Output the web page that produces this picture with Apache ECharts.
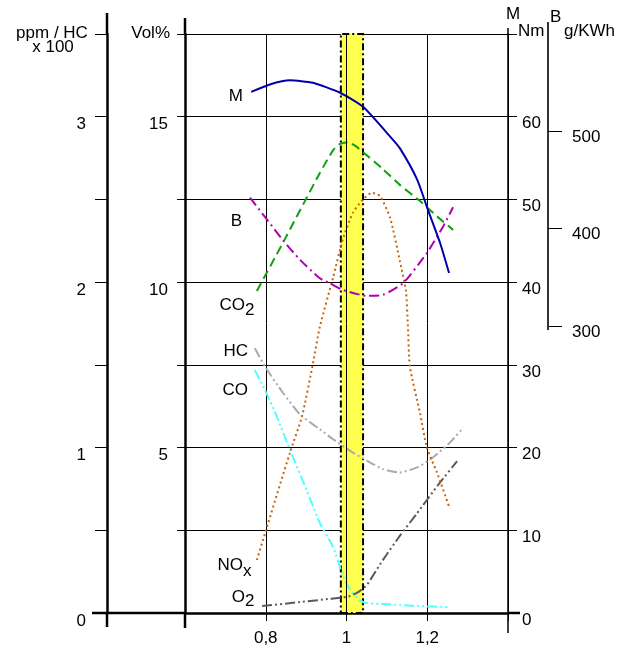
<!DOCTYPE html>
<html>
<head>
<meta charset="utf-8">
<script src="https://cdn.jsdelivr.net/npm/echarts@6/dist/echarts.min.js"></script>
<style>
  html, body { margin: 0; padding: 0; background: #fff; }
  #chart { width: 628px; height: 650px; }
</style>
</head>
<body>
<div id="chart"></div>
<script>
// lambda (Luftzahl) auf der x-Achse
var lambdaLabels = [0.8, 1, 1.2];
var bandFrom = 0.986, bandTo = 1.041;

// M  [lambda, Nm]
var torqueM = [[0.764, 63.0], [0.81, 63.9], [0.86, 64.4], [0.917, 64.1], [0.984, 62.9], [1.041, 61.2],
  [1.108, 57.6], [1.132, 56.2], [1.175, 52.4], [1.202, 48.7], [1.232, 44.7], [1.254, 41.1]];
// B  [lambda, g/KWh]
var fuelB = [[0.761, 432], [0.843, 388], [0.885, 368], [0.934, 349], [0.959, 344], [0.991, 337],
  [1.051, 331], [1.09, 332], [1.14, 344], [1.199, 375], [1.239, 402], [1.264, 422]];
// CO2  [lambda, Vol%]
var co2 = [[0.778, 9.73], [0.843, 11.2], [0.934, 13.3], [0.967, 13.99], [0.983, 14.17], [1.004, 14.23],
  [1.023, 14.11], [1.041, 13.93], [1.09, 13.42], [1.132, 12.94], [1.182, 12.45], [1.224, 11.99], [1.264, 11.58]];
// CO  [lambda, Vol%]
var co = [[0.773, 7.34], [0.798, 6.74], [0.828, 5.92], [0.86, 4.93], [0.902, 3.69], [0.934, 2.72],
  [0.967, 1.99], [0.989, 1.21], [1.009, 0.7], [1.033, 0.39], [1.051, 0.3], [1.09, 0.27],
  [1.132, 0.24], [1.175, 0.21], [1.256, 0.18]];
// O2  [lambda, Vol%]
var o2 = [[0.791, 0.21], [0.885, 0.33], [0.96, 0.43], [1.005, 0.5], [1.03, 0.64], [1.051, 0.86],
  [1.09, 1.6], [1.132, 2.33], [1.175, 3.02], [1.227, 3.87], [1.274, 4.59]];
// HC  [lambda, ppm x 100]
var hc = [[0.773, 1.6], [0.798, 1.49], [0.843, 1.33], [0.885, 1.2], [0.934, 1.11], [0.967, 1.05],
  [1.009, 0.98], [1.051, 0.92], [1.09, 0.87], [1.132, 0.85], [1.175, 0.88], [1.214, 0.94],
  [1.256, 1.03], [1.289, 1.12]];
// NOx  [lambda, ppm]
var nox = [[0.778, 0.32], [0.798, 0.48], [0.86, 0.97], [0.89, 1.19], [0.917, 1.51], [0.934, 1.73],
  [0.967, 2.03], [0.991, 2.26], [1.016, 2.42], [1.041, 2.5], [1.063, 2.54], [1.083, 2.52],
  [1.108, 2.39], [1.132, 2.13], [1.147, 1.95], [1.152, 1.74], [1.157, 1.49], [1.182, 1.21],
  [1.199, 1.0], [1.224, 0.85], [1.256, 0.63]];

var FONT = 'Liberation Sans, Arial, sans-serif';
var chart = echarts.init(document.getElementById('chart'));

function curve(name, data, yIdx, xIdx, color, type) {
  return {
    name: name, type: 'line', data: data, xAxisIndex: xIdx, yAxisIndex: yIdx,
    showSymbol: false, smooth: 0.2, silent: true, z: 3,
    lineStyle: { color: color, width: 2, type: type }
  };
}
function txt(t, x, y, align, size) {
  return {
    type: 'text', x: x, y: y, z: 10, silent: true,
    style: { text: t, font: (size || 17) + 'px ' + FONT, fill: '#000',
      textAlign: align, align: align, textVerticalAlign: 'middle', verticalAlign: 'middle' }
  };
}
function seg(x1, y1, x2, y2, w, c) {
  return { type: 'line', z: 10, silent: true, shape: { x1: x1, y1: y1, x2: x2, y2: y2 },
    style: { stroke: c || '#000', lineWidth: w } };
}
function onlyValues(list) {
  return function (v) {
    for (var i = 0; i < list.length; i++) if (Math.abs(list[i] - v) < 1e-6) return String(v).replace('.', ',');
    return '';
  };
}

var option = {
  animation: false,
  textStyle: { fontFamily: FONT },
  grid: [
    { left: 185, right: 120, top: 34, bottom: 37 },
    { left: 185, right: 120, top: 34, bottom: 324 }
  ],
  xAxis: [
    {
      gridIndex: 0, type: 'value', min: 0.6, max: 1.4, interval: 0.2,
      axisLine: { lineStyle: { color: '#000', width: 2.5 } },
      axisTick: { length: 8, lineStyle: { color: '#000', width: 1 } },
      axisLabel: { margin: 17, fontSize: 17, color: '#000', formatter: onlyValues(lambdaLabels) },
      splitLine: { show: true, lineStyle: { color: '#000', width: 1 } }
    },
    { gridIndex: 1, type: 'value', min: 0.6, max: 1.4, show: false }
  ],
  yAxis: [
    { // Vol%
      gridIndex: 0, type: 'value', position: 'left', min: 0, max: 17.5, interval: 2.5,
      axisLine: { show: true, lineStyle: { color: '#000', width: 2.5 } },
      axisTick: { show: true, length: 8, lineStyle: { color: '#000', width: 1 } },
      axisLabel: { margin: 17, fontSize: 17, color: '#000', verticalAlign: 'top', lineHeight: 16,
        formatter: onlyValues([5, 10, 15]) },
      splitLine: { show: true, lineStyle: { color: '#000', width: 1 } }
    },
    { // ppm / HC x 100
      gridIndex: 0, type: 'value', position: 'left', offset: 78, min: 0, max: 3.5, interval: 0.5,
      axisLine: { show: true, lineStyle: { color: '#000', width: 2.5 } },
      axisTick: { show: true, length: 12, lineStyle: { color: '#000', width: 1 } },
      axisLabel: { margin: 21, fontSize: 17, color: '#000', verticalAlign: 'top', lineHeight: 16,
        formatter: onlyValues([0, 1, 2, 3]) },
      splitLine: { show: false }
    },
    { // M Nm
      gridIndex: 0, type: 'value', position: 'right', min: 0, max: 70, interval: 10,
      axisLine: { show: true, lineStyle: { color: '#000', width: 1.5 } },
      axisTick: { show: true, length: 9, lineStyle: { color: '#000', width: 1 } },
      axisLabel: { margin: 14, fontSize: 17, color: '#000', verticalAlign: 'top', lineHeight: 14,
        formatter: onlyValues([0, 10, 20, 30, 40, 50, 60]) },
      splitLine: { show: false }
    },
    { // B g/KWh
      gridIndex: 1, type: 'value', position: 'right', offset: 40, min: 300, max: 600, interval: 100,
      axisLine: { show: true, lineStyle: { color: '#333', width: 2 } },
      axisTick: { show: true, length: 14, customValues: [300, 400, 500], lineStyle: { color: '#000', width: 1 } },
      axisLabel: { margin: 24, fontSize: 17, color: '#000', verticalAlign: 'top', lineHeight: 12,
        customValues: [300, 400, 500], formatter: onlyValues([300, 400, 500]) },
      splitLine: { show: false }
    }
  ],
  series: [
    {
      name: 'band', type: 'line', data: [], xAxisIndex: 0, yAxisIndex: 0, silent: true, z: 1,
      markArea: {
        silent: true,
        itemStyle: { color: '#ffff4f', borderColor: '#000', borderWidth: 2, borderType: [7, 3, 2, 3] },
        data: [[{ xAxis: bandFrom }, { xAxis: bandTo }]]
      },
      markLine: {
        silent: true, symbol: 'none', label: { show: false },
        lineStyle: { color: '#000', width: 1, type: 'solid' },
        data: [{ xAxis: 1 }]
      }
    },
    curve('CO', co, 0, 0, '#4dffff', [10, 3, 2, 3, 2, 3]),
    curve('O2', o2, 0, 0, '#5a5a5a', [10, 3, 2, 3, 2, 3]),
    curve('HC', hc, 1, 0, '#aaaaaa', [10, 3, 2, 3, 2, 3]),
    curve('NOx', nox, 1, 0, '#c8640f', [2, 3]),
    curve('CO2', co2, 0, 0, '#10a010', [9, 5]),
    curve('B', fuelB, 3, 1, '#b000b0', [10, 4, 2, 4]),
    curve('M', torqueM, 2, 0, '#0000aa', 'solid')
  ],
  graphic: [
    // Achsenverlaengerungen
    seg(92, 613, 185, 613, 2.5), seg(508, 613, 520, 613, 2.5),
    seg(107, 13, 107, 34, 2.5), seg(107, 613, 107, 627, 2.5),
    seg(185, 18, 185, 34, 2.5), seg(185, 613, 185, 628, 2.5),
    seg(508, 28, 508, 34, 1.5), seg(508, 613, 508, 633, 1.5),
    seg(548, 22, 548, 34, 2, '#333'), seg(548, 326, 548, 330, 2, '#333'),
    // Achsentitel
    txt('ppm / HC', 52, 33, 'center'), txt('x 100', 53, 47, 'center'),
    txt('Vol%', 170, 33, 'right'),
    txt('M', 506, 14, 'left'), txt('Nm', 518, 31, 'left'),
    txt('B', 550, 17, 'left'), txt('g/KWh', 564, 31, 'left'),
    // Kurvenbeschriftungen
    txt('M', 243, 96, 'right'),
    txt('B', 242, 221, 'right'),
    txt('CO', 245, 305, 'right'), txt('2', 245, 310, 'left'),
    txt('HC', 248, 351, 'right'),
    txt('CO', 248, 390, 'right'),
    txt('NO', 243, 565, 'right'), txt('x', 243, 571, 'left'),
    txt('O', 245, 597, 'right'), txt('2', 245, 601, 'left')
  ]
};

chart.setOption(option);
</script>
</body>
</html>
